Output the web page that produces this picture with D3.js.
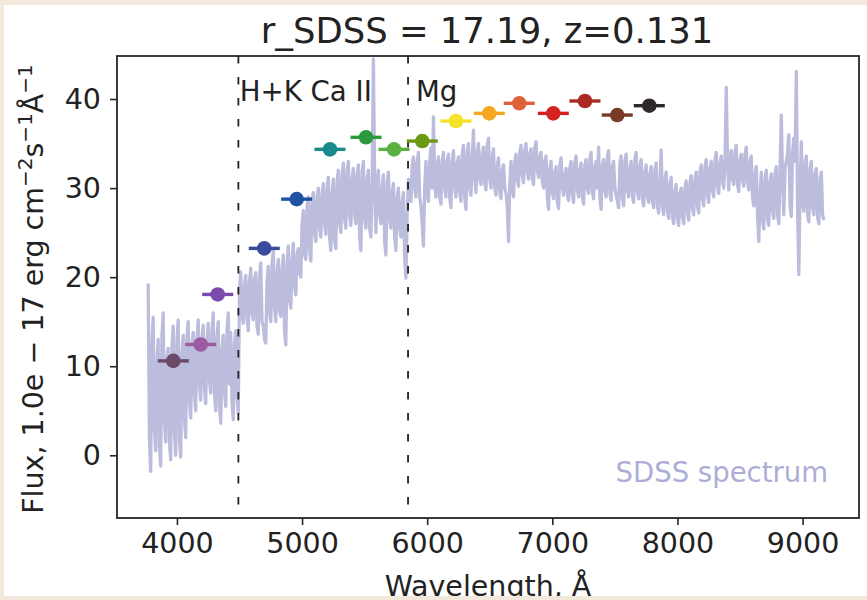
<!DOCTYPE html>
<html>
<head>
<meta charset="utf-8">
<script src="https://cdn.jsdelivr.net/npm/d3@7"></script>
<style>
  html, body { margin: 0; padding: 0; background: #f2e9dc; }
  svg { display: block; }
  text { font-family: "DejaVu Sans", sans-serif; }
</style>
</head>
<body>
<svg id="chart" width="867" height="600"></svg>
<script>
// SDSS spectrum, sampled every 10 Å starting at 3770 Å (flux in 1e-17 erg cm^-2 s^-1 Å^-1)
const spectrumStart = 3770;
const spectrumStep = 10;
const spectrumFlux = [
  // 3770–3960
  19.3, 2.0, -1.8, 12.5, 15.5, 3.0, 0.5, 10.5, 13.0, 1.0, -1.2, 13.5, 16.0, 4.0, 1.5, 11.0, 12.0, 1.5, -0.5, 12.0,
  // 3970–4160
  14.5, 2.5, 0.0, 12.8, 15.2, 1.8, -0.2, 11.5, 13.5, 4.0, 2.0, 13.2, 15.0, 6.0, 4.2, 12.5, 13.8, 6.5, 5.0, 13.0,
  // 4170–4360
  15.2, 8.0, 6.2, 13.0, 14.6, 7.5, 5.8, 12.8, 14.8, 8.5, 7.0, 14.0, 16.0, 7.0, 5.0, 13.2, 15.0, 5.5, 3.6, 11.8,
  // 4370–4560
  13.5, 7.0, 5.5, 14.0, 16.0, 8.0, 13.8, 6.0, 4.0, 12.5, 14.0, 6.5, 4.8, 18.5, 20.6, 16.0, 14.8, 19.0, 20.2, 15.5,
  // 4570–4760
  14.0, 19.5, 21.0, 16.0, 15.2, 19.8, 20.5, 14.5, 13.6, 20.0, 21.6, 15.0, 14.5, 13.0, 12.6, 19.5, 21.2, 16.0, 15.0, 21.5,
  // 4770–4960
  23.0, 16.5, 15.0, 20.5, 22.0, 16.2, 15.6, 21.0, 22.5, 14.0, 12.4, 21.5, 23.5, 17.5, 16.5, 22.0, 23.8, 19.0, 18.0, 22.5,
  // 4970–5160
  23.2, 20.5, 20.0, 26.0, 27.5, 22.5, 22.0, 28.0, 29.0, 23.0, 21.8, 28.5, 29.5, 25.0, 24.0, 29.0, 30.0, 25.5, 24.5, 29.5,
  // 5170–5360
  30.5, 26.0, 24.8, 30.0, 31.2, 24.5, 23.0, 29.5, 31.0, 24.0, 23.2, 30.8, 32.0, 26.0, 25.0, 31.5, 32.8, 26.5, 25.5, 32.0,
  // 5370–5560
  33.0, 27.0, 25.8, 31.0, 32.2, 27.0, 26.0, 31.5, 32.6, 24.5, 23.0, 31.8, 33.0, 26.5, 25.5, 31.0, 32.0, 25.5, 24.5, 30.0,
  // 5570–5760
  44.5, 31.0, 25.0, 30.5, 32.0, 27.0, 26.0, 30.0, 31.5, 24.0, 22.5, 30.5, 31.8, 26.5, 25.5, 29.5, 30.5, 24.5, 23.0, 29.0,
  // 5770–5960
  30.0, 25.5, 24.5, 28.5, 29.5, 22.0, 19.9, 27.0, 31.0, 29.5, 28.5, 32.5, 33.5, 30.0, 29.0, 33.0, 34.0, 29.0, 28.0, 26.0,
  // 5970–6160
  23.5, 30.0, 33.0, 29.5, 28.5, 33.0, 34.5, 30.0, 38.0, 30.5, 29.0, 32.5, 33.5, 29.0, 28.2, 33.0, 34.0, 30.0, 29.0, 33.0,
  // 6170–6360
  33.8, 29.0, 27.8, 33.0, 34.2, 30.0, 29.0, 32.8, 33.5, 29.5, 28.5, 33.8, 34.8, 29.0, 27.6, 34.0, 35.0, 30.0, 29.2, 33.5,
  // 6370–6560
  36.5, 31.0, 29.5, 34.0, 35.0, 31.0, 30.4, 33.8, 34.6, 30.5, 29.8, 34.8, 35.6, 31.0, 30.0, 33.5, 34.4, 30.0, 29.2, 32.5,
  // 6570–6760
  33.4, 29.5, 28.8, 32.0, 32.6, 30.0, 29.4, 28.0, 24.0, 30.5, 33.0, 29.8, 29.0, 33.0, 33.8, 31.0, 30.2, 34.0, 34.8, 31.5,
  // 6770–6960
  30.6, 34.2, 35.0, 31.8, 31.0, 33.8, 34.4, 31.2, 30.4, 34.5, 35.2, 32.0, 31.2, 33.5, 34.0, 30.8, 30.0, 33.0, 33.6, 29.0,
  // 6970–7160
  27.6, 32.0, 33.0, 29.5, 28.8, 31.8, 32.4, 28.5, 27.7, 32.6, 33.4, 30.0, 29.2, 31.5, 32.2, 29.4, 28.6, 32.2, 33.0, 29.2,
  // 7170–7360
  28.4, 32.8, 33.6, 29.8, 29.0, 32.0, 32.8, 29.0, 28.2, 32.5, 33.2, 30.0, 29.4, 33.2, 34.0, 29.6, 28.8, 32.4, 33.0, 30.0,
  // 7370–7560
  34.6, 29.0, 27.6, 32.5, 33.2, 29.8, 29.0, 33.5, 34.2, 29.4, 28.6, 32.4, 33.0, 30.0, 29.2, 28.5, 27.8, 32.8, 33.6, 29.0,
  // 7570–7760
  28.0, 33.0, 33.8, 29.8, 29.0, 32.2, 33.0, 29.2, 28.4, 33.2, 34.0, 29.6, 28.8, 32.5, 33.2, 28.8, 28.0, 31.8, 32.6, 29.0,
  // 7770–7960
  28.4, 31.6, 32.4, 28.5, 27.8, 32.0, 32.8, 28.0, 27.2, 30.5, 34.3, 28.0, 27.0, 31.0, 31.8, 27.4, 26.6, 30.5, 31.2, 26.8,
  // 7970–8160
  26.0, 29.6, 30.4, 26.6, 25.8, 29.4, 30.0, 26.8, 26.0, 30.0, 30.8, 27.2, 26.4, 30.6, 31.4, 27.8, 27.0, 31.0, 31.8, 28.0,
  // 8170–8360
  27.2, 31.8, 32.6, 28.8, 28.0, 32.4, 33.2, 29.2, 28.4, 32.2, 33.0, 29.8, 29.0, 33.2, 34.0, 30.2, 29.4, 32.8, 33.6, 30.8,
  // 8370–8560
  30.0, 33.0, 41.3, 33.2, 29.8, 33.4, 34.2, 31.0, 30.4, 34.0, 34.8, 30.4, 29.6, 33.0, 33.8, 31.0, 30.2, 33.8, 34.6, 30.6,
  // 8570–8760
  29.8, 32.8, 33.6, 29.0, 28.0, 31.6, 32.4, 27.0, 24.0, 29.0, 31.8, 26.4, 25.4, 31.0, 32.0, 26.6, 25.8, 30.8, 31.6, 27.4,
  // 8770–8960
  26.6, 31.6, 32.4, 27.0, 26.0, 32.0, 38.2, 31.0, 27.0, 32.2, 33.0, 34.0, 36.0, 28.0, 26.8, 34.0, 35.6, 33.0, 43.1, 28.0,
  // 8970–9160
  20.3, 30.0, 35.2, 28.2, 27.4, 32.8, 33.6, 27.0, 26.2, 32.2, 33.0, 27.8, 27.0, 31.6, 32.2, 26.8, 26.0, 31.0, 31.8, 27.0,
  // 9170
  26.4
];

// Photometric bands: central wavelength, half-width, flux, colour
const bandCenters = [3971, 4190, 4326, 4698, 4957, 5223, 5511, 5735, 5961, 6230, 6496, 6736, 7008, 7261, 7519, 7775];
const bandHalfWidths = [124, 124, 124, 124, 124, 124, 124, 124, 124, 124, 124, 124, 124, 124, 124, 124];
const bandFlux = [10.6, 12.44, 18.06, 23.23, 28.76, 34.35, 35.7, 34.35, 35.28, 37.53, 38.39, 39.52, 38.39, 39.78, 38.2, 39.25];
const bandColors = ["#6a4a68", "#9c5aa0", "#7a4aac", "#3a4a9c", "#1f52a4", "#1a8a8c", "#2a9a3c", "#5ab040",
                    "#6a9a14", "#f5e22a", "#f5a623", "#e0603a", "#d42222", "#aa2a22", "#7a3a28", "#2e2828"];

// Redshifted spectral features
const lineNames = ["H+K Ca II", "Mg"];
const lineWavelengths = [4491, 5847];

const xTicks = [4000, 5000, 6000, 7000, 8000, 9000];
const yTicks = [0, 10, 20, 30, 40];

const titleText = "r_SDSS = 17.19, z=0.131";

const svg = d3.select("#chart");

// paper-coloured page with a white figure panel
svg.append("rect").attr("width", 867).attr("height", 600).attr("fill", "#f2e9dc");
const defs = svg.append("defs");
defs.append("clipPath").attr("id", "panel-clip")
  .append("rect").attr("x", 4).attr("y", 5).attr("width", 863).attr("height", 591);
svg.append("rect").attr("x", 4).attr("y", 5).attr("width", 863).attr("height", 591).attr("fill", "#ffffff");

const fig = svg.append("g").attr("clip-path", "url(#panel-clip)");

const axLeft = 117, axRight = 859, axTop = 56, axBottom = 518;
const x = d3.scaleLinear().domain([3521, 9451]).range([axLeft, axRight]);
const y = d3.scaleLinear().domain([-7.04, 44.83]).range([axBottom, axTop]);

defs.append("clipPath").attr("id", "axes-clip")
  .append("rect").attr("x", axLeft).attr("y", axTop).attr("width", axRight - axLeft).attr("height", axBottom - axTop);

const plot = fig.append("g").attr("clip-path", "url(#axes-clip)");

// spectrum
const spectrum = spectrumFlux.map((f, i) => [spectrumStart + i * spectrumStep, f]);
plot.append("path")
  .datum(spectrum)
  .attr("fill", "none")
  .attr("stroke", "#bcbddc")
  .attr("stroke-width", 3.3)
  .attr("stroke-linejoin", "round")
  .attr("d", d3.line().x(d => x(d[0])).y(d => y(d[1])));

// feature markers
plot.selectAll("line.feature")
  .data(lineWavelengths)
  .join("line")
  .attr("class", "feature")
  .attr("x1", d => x(d)).attr("x2", d => x(d))
  .attr("y1", axTop).attr("y2", axBottom)
  .attr("stroke", "#222")
  .attr("stroke-width", 1.8)
  .attr("stroke-dasharray", "7.5,13.5");

plot.selectAll("text.feature")
  .data(lineNames)
  .join("text")
  .attr("class", "feature")
  .attr("x", (d, i) => x(lineWavelengths[i]) + (i === 0 ? 1.5 : 8))
  .attr("y", 101)
  .attr("font-size", 27.6)
  .attr("fill", "#222")
  .text(d => d);

// photometry with band widths
const bands = bandCenters.map((c, i) => ({ c, w: bandHalfWidths[i], f: bandFlux[i], col: bandColors[i] }));
plot.selectAll("line.band")
  .data(bands)
  .join("line")
  .attr("class", "band")
  .attr("x1", d => x(d.c - d.w)).attr("x2", d => x(d.c + d.w))
  .attr("y1", d => y(d.f)).attr("y2", d => y(d.f))
  .attr("stroke", d => d.col)
  .attr("stroke-width", 3.4);
plot.selectAll("circle.band")
  .data(bands)
  .join("circle")
  .attr("class", "band")
  .attr("cx", d => x(d.c)).attr("cy", d => y(d.f))
  .attr("r", 7.3)
  .attr("fill", d => d.col);

// legend-style label
plot.append("text")
  .attr("x", 828).attr("y", 482)
  .attr("text-anchor", "end")
  .attr("font-size", 27.5)
  .attr("fill", "#adaed6")
  .text("SDSS spectrum");

// axes
const axisColor = "#262626";
const xAxis = fig.append("g").attr("transform", `translate(0,${axBottom})`)
  .call(d3.axisBottom(x).tickValues(xTicks).tickSize(7).tickPadding(8).tickFormat(d3.format("d")));
const yAxis = fig.append("g").attr("transform", `translate(${axLeft},0)`)
  .call(d3.axisLeft(y).tickValues(yTicks).tickSize(7).tickPadding(9).tickFormat(d3.format("d")));
[xAxis, yAxis].forEach(a => {
  a.select(".domain").remove();
  a.selectAll(".tick line").attr("stroke", axisColor).attr("stroke-width", 1.6);
  a.selectAll(".tick text").attr("fill", "#222").attr("font-size", 28.5)
    .attr("font-family", "DejaVu Sans, sans-serif");
});

fig.append("rect")
  .attr("x", axLeft).attr("y", axTop).attr("width", axRight - axLeft).attr("height", axBottom - axTop)
  .attr("fill", "none").attr("stroke", axisColor).attr("stroke-width", 1.8);

// title
fig.append("text")
  .attr("x", (axLeft + axRight) / 2 - 1).attr("y", 43)
  .attr("text-anchor", "middle")
  .attr("font-size", 35.4)
  .attr("fill", "#222")
  .text(titleText);

// x label (the panel edge trims its lower part)
fig.append("text")
  .attr("x", (axLeft + axRight) / 2).attr("y", 596)
  .attr("text-anchor", "middle")
  .attr("font-size", 28.5)
  .attr("fill", "#222")
  .text("Wavelength, Å");

// y label with superscripts
const yl = fig.append("text")
  .attr("transform", `translate(43,${(axTop + axBottom) / 2 + 2}) rotate(-90)`)
  .attr("text-anchor", "middle")
  .attr("font-size", 28.5)
  .attr("fill", "#222");
const parts = [
  ["Flux, 1.0e − 17 erg cm", false],
  ["−2", true],
  ["s", false],
  ["−1", true],
  ["Å", false],
  ["−1", true]
];
let raised = false;
parts.forEach(([t, sup]) => {
  const ts = yl.append("tspan").text(t);
  if (sup && !raised) { ts.attr("dy", -11).attr("font-size", 20); raised = true; }
  else if (sup) { ts.attr("font-size", 20); }
  else if (!sup && raised) { ts.attr("dy", 11); raised = false; }
});
</script>
</body>
</html>
